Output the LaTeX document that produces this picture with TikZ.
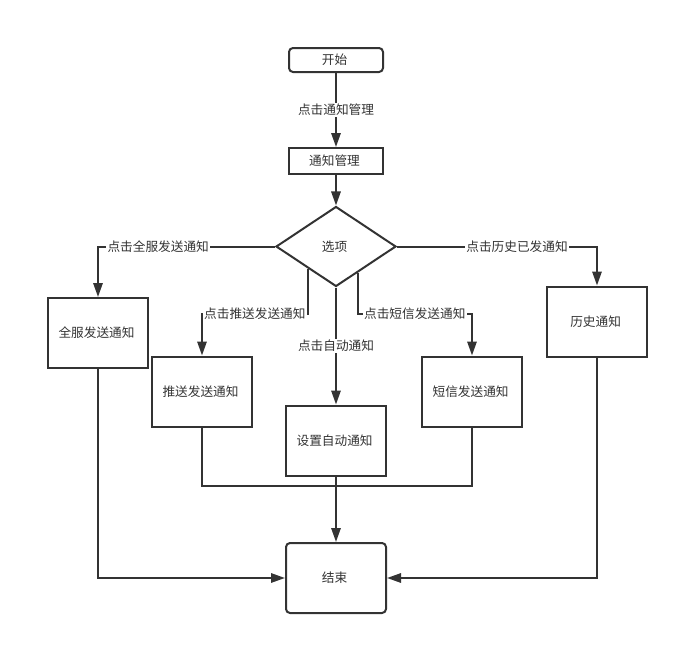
\documentclass[tikz,border=0pt]{standalone}
\usepackage{fontspec}
\setmainfont{Noto Sans CJK SC}
\usetikzlibrary{shapes.geometric,arrows.meta}
\definecolor{linegray}{HTML}{333333}
\begin{document}
\begin{tikzpicture}[x=0.75pt, y=-0.75pt,
		box/.style={shape=rectangle, draw=linegray, line width=1.5pt, text=linegray, align=center, font=\fontsize{9.5pt}{11pt}\selectfont},
		bigbox/.style={box, minimum width=75pt, minimum height=52.5pt},
		tag/.style={fill=white, inner sep=1pt, text=linegray, font=\fontsize{9.5pt}{11pt}\selectfont},
		>={Triangle[length=10.5pt, width=7pt]}]
			\useasboundingbox (0,0) rectangle (679,646);
			
			\node (z1)[box, rounded corners=3pt, minimum width=70.5pt, minimum height=18pt] 
			at (336,60){
				开始
			}; 
			
			\node (z2)[box, minimum width=70pt, minimum height=19.5pt] 
			at (336,161){
				通知管理
			}; 
			
			\node (z3)[box, shape=diamond, inner sep=0pt, minimum width=90pt, minimum height=60pt] 
			at (336,246.5){
				选项
			}; 
			
			\node (z4)[bigbox] 
			at (98,333){
				全服发送通知
			}; 
			
			\node (z5)[bigbox] 
			at (202,391.5){
				推送发送通知
			}; 
			
			\node (z6)[bigbox] 
			at (597,321.5){
				历史通知
			}; 
			
			\node (z7)[bigbox] 
			at (336,440.5){
				设置自动通知
			}; 
			
			\node (z8)[bigbox] 
			at (472,391.5){
				短信发送通知
			}; 
			
			\node (z9)[bigbox, rounded corners=3pt] 
			at (336,578){
				结束
			}; 
			
			\coordinate (k1) at (336,314);
			\coordinate (k2) at (336,486);
			
			\begin{scope}[draw=linegray, line width=1.5pt]
			\path[draw, ->] (z1) -- node[tag]{点击通知管理} (z2);
			\path[draw, ->] (z2) -- (z3);
			\path[draw, ->] (z3.west) -| node[tag, pos=0.33]{点击全服发送通知} (z4.north);
			\path[draw, ->] (z3.east) -| node[tag, pos=0.3]{点击历史已发通知} (z6.north);
			\path[draw, ->] (z3.218) -- (z3.218 |- k1) -| node[tag, pos=0.25]{点击推送发送通知} (z5.north);
			\path[draw, ->] (z3.-51) -- (z3.-51 |- k1) -| node[tag, pos=0.25]{点击短信发送通知} (z8.north);
			\path[draw, ->] (z3.south) -- node[tag]{点击自动通知} (z7.north);
			\path[draw] (z5.south) |- (k2) -| (z8.south);
			\path[draw, ->] (z7) -- (z9);
			\path[draw, ->] (z4.south) |- (z9.west);
			\path[draw, ->] (z6.south) |- (z9.east);
			\end{scope}
		\end{tikzpicture}
\end{document}
